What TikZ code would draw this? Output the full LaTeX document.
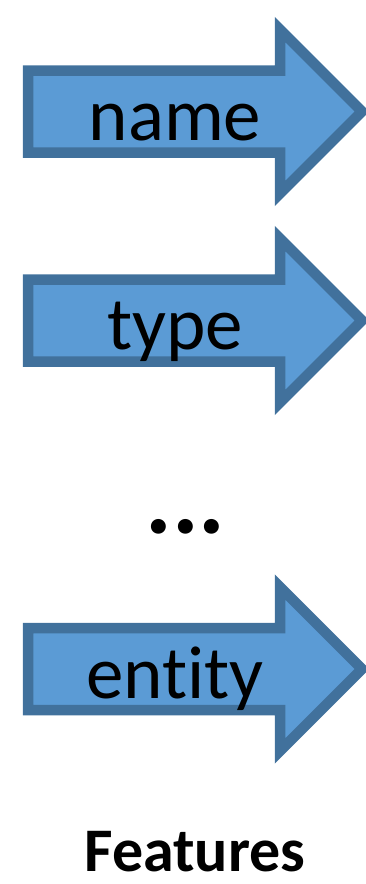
\documentclass[tikz,border=0pt]{standalone}
\usepackage{fontspec}
\setmainfont[Ligatures=NoCommon]{Carlito}
\definecolor{arrowfill}{RGB}{91,155,213}
\definecolor{arrowline}{RGB}{65,113,156}
\tikzset{
  featarrow/.style={fill=arrowfill, draw=arrowline, line width=10.5pt, line join=miter},
  feattext/.style={anchor=base, inner sep=0pt, font=\fontsize{75}{90}\selectfont},
}
\begin{document}
\begin{tikzpicture}[x=1pt,y=-1pt]
\useasboundingbox (0,0) rectangle (365,884);
\foreach \cy/\nm/\lab in {111.5/a1/name, 320.5/a2/type, 669/a3/entity}{
  \draw[featarrow] (28,\cy-41) -- (280,\cy-41) -- (280,\cy-82) -- (362,\cy) -- (280,\cy+82) -- (280,\cy+41) -- (28,\cy+41) -- cycle;
  \node[feattext] (\nm) at (175,\cy+29) {\lab};
}
\node[anchor=base, inner sep=0pt, font=\fontsize{100}{110}\selectfont\bfseries] (dots) at (185.5,533) {...};
\node[anchor=base, inner sep=0pt, font=\fontsize{62}{74}\selectfont\bfseries] (feat) at (195,871) {Features};
\end{tikzpicture}
\end{document}
